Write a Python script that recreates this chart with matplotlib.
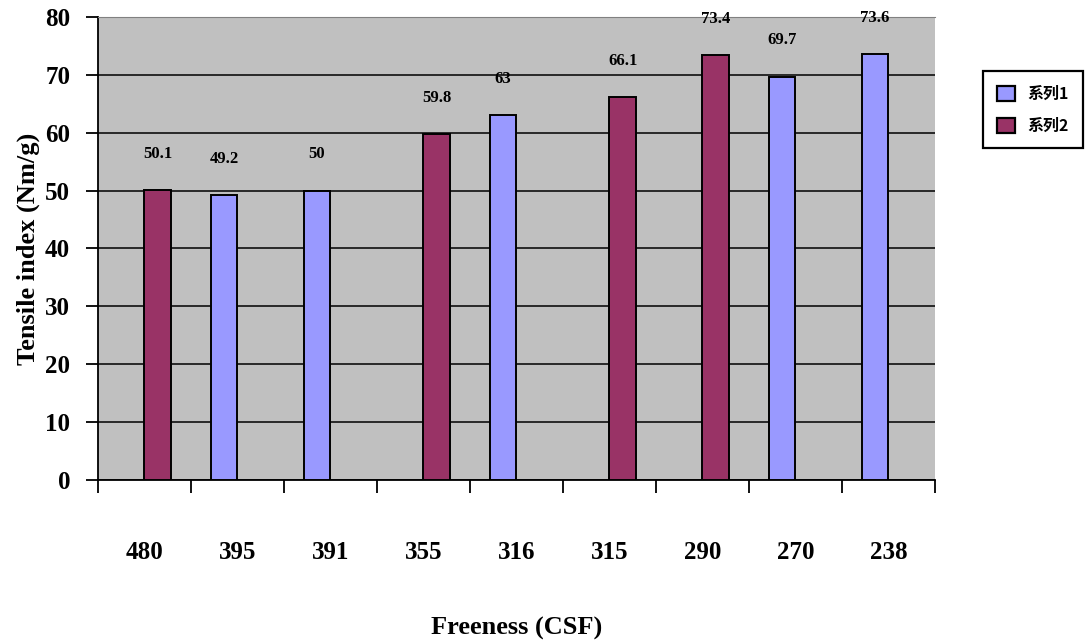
import numpy as np
import matplotlib
matplotlib.use("Agg")
import matplotlib.pyplot as plt
from matplotlib.ticker import FixedLocator, NullFormatter

# ---------- DATA ----------
freeness = ["480", "395", "391", "355", "316", "315", "290", "270", "238"]
series1 = [np.nan, 49.2, 50, np.nan, 63, np.nan, np.nan, 69.7, 73.6]
series2 = [50.1, np.nan, np.nan, 59.8, np.nan, 66.1, 73.4, np.nan, np.nan]
legend_names = ["系列1", "系列2"]

# ---------- STYLE ----------
plt.rcParams['font.family'] = ['Liberation Serif', 'DejaVu Serif']
plt.rcParams['font.weight'] = 'bold'
BLUE = '#9999FF'
MAROON = '#993366'
BAR_W = 0.29

fig = plt.figure(figsize=(10.91, 6.43), dpi=100)
ax = fig.add_axes([0.0898, 0.2535, 0.7672, 0.7201])
ax.set_facecolor('#C0C0C0')

x = np.arange(len(freeness))
s1 = np.array(series1, dtype=float)
s2 = np.array(series2, dtype=float)

b1 = ax.bar(x - BAR_W / 2, s1, BAR_W, color=BLUE, edgecolor='black', linewidth=1.4, zorder=3)
b2 = ax.bar(x + BAR_W / 2, s2, BAR_W, color=MAROON, edgecolor='black', linewidth=1.4, zorder=3)

# value labels above the bars
for xs, vals in ((x - BAR_W / 2, s1), (x + BAR_W / 2, s2)):
    for xi, v in zip(xs, vals):
        if np.isnan(v):
            continue
        ax.annotate(f"{v:g}", (xi, v), xytext=(0, 26), textcoords='offset points',
                    ha='center', va='center', fontsize=12, fontweight='bold', zorder=4)

# ---------- AXES ----------
ax.set_xlim(-0.5, len(freeness) - 0.5)
ax.set_ylim(0, 80)
ax.set_yticks(np.arange(0, 81, 10))
ax.yaxis.grid(True, color='black', linewidth=1.1, zorder=1)
ax.set_axisbelow(True)

# category labels at centres, tick marks at the category boundaries
ax.set_xticks(x)
ax.set_xticklabels(freeness)
ax.tick_params(axis='x', which='major', length=0, pad=44, labelsize=18)
ax.xaxis.set_minor_locator(FixedLocator(np.arange(-0.5, len(freeness), 1.0)))
ax.xaxis.set_minor_formatter(NullFormatter())
ax.tick_params(axis='x', which='minor', direction='out', length=9, width=1.3)
ax.tick_params(axis='y', direction='out', length=9, width=1.3, pad=11, labelsize=18)

for lab in ax.get_xticklabels() + ax.get_yticklabels():
    lab.set_fontweight('bold')

ax.spines['top'].set_color('#808080')
ax.spines['right'].set_visible(False)
ax.spines['left'].set_linewidth(1.3)
ax.spines['bottom'].set_linewidth(1.3)

ax.set_ylabel("Tensile index (Nm/g)", fontsize=19, fontweight='bold', labelpad=4)
fig.text(0.4735, 0.023, "Freeness (CSF)", ha='center', va='center',
         fontsize=19, fontweight='bold')

# ---------- LEGEND ----------
leg = fig.legend([b1, b2], legend_names, loc='upper left',
                 bbox_to_anchor=(0.901, 0.889), borderaxespad=0,
                 fancybox=False, framealpha=1,
                 edgecolor='black', handlelength=1.1, handleheight=1.1,
                 borderpad=0.9, labelspacing=1.0, handletextpad=0.8,
                 prop={'family': ['Noto Sans CJK SC', 'DejaVu Sans'], 'size': 11.5})
leg.get_frame().set_linewidth(1.6)
for h in leg.legend_handles:
    h.set_linewidth(1.6)

fig.savefig("out.png", dpi=100)
